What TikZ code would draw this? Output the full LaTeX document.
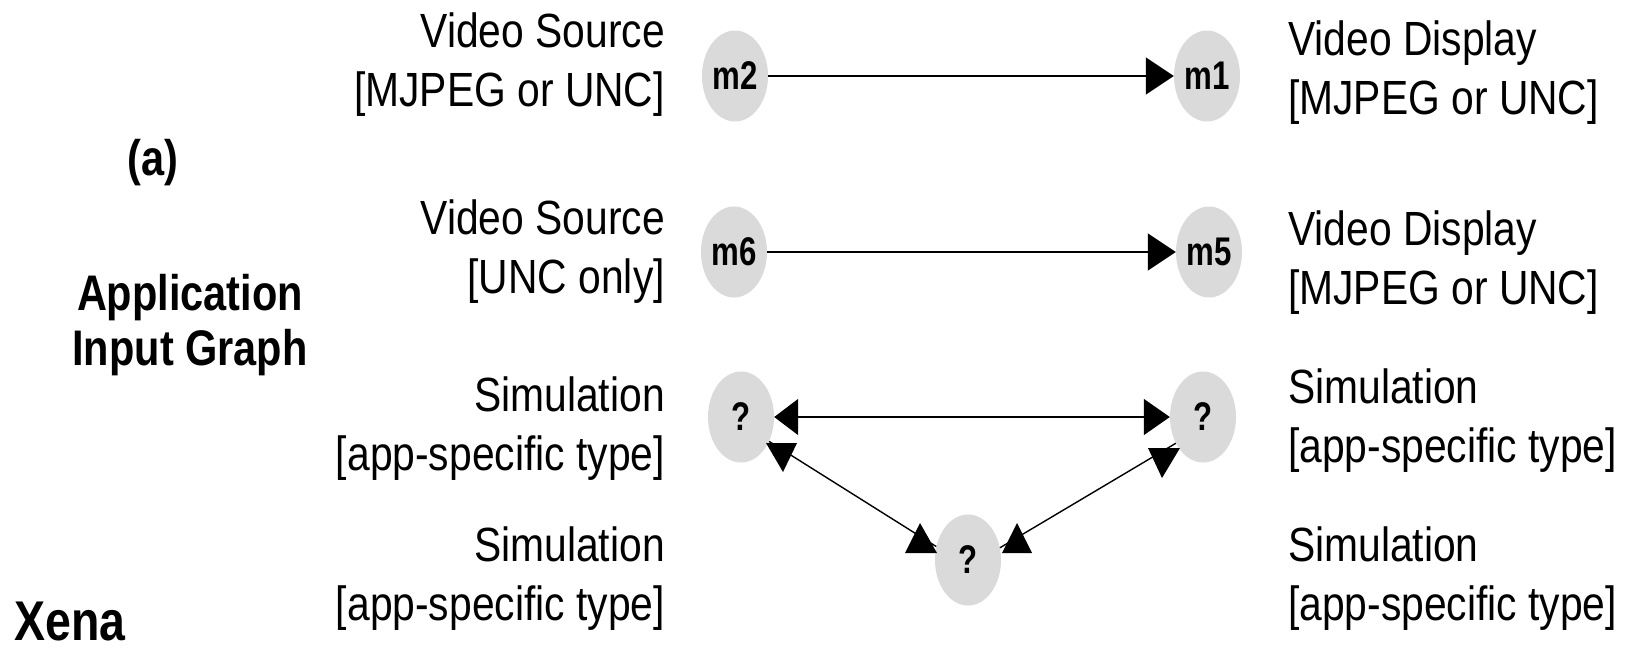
\documentclass[tikz,border=0pt]{standalone}
\usepackage{fontspec}
\setmainfont{Liberation Sans}[FakeStretch=0.85]
\newfontfamily\headfont{Liberation Sans}[FakeStretch=0.83]
\newfontfamily\nodefont{Liberation Sans}[FakeStretch=0.78]
\usetikzlibrary{shapes.geometric,arrows.meta}
\definecolor{nodegray}{RGB}{218,218,218}
\tikzset{
  mnode/.style={ellipse, fill=nodegray, minimum width=66pt, minimum height=91pt, inner sep=0pt,
    font=\nodefont\bfseries\fontsize{40}{46}\selectfont},
  lbl/.style={inner sep=0pt, font=\fontsize{48}{59}\selectfont},
  llbl/.style={lbl, align=right, anchor=north east},
  rlbl/.style={lbl, align=left, anchor=north west},
  headlbl/.style={inner sep=0pt, font=\headfont\bfseries\fontsize{50}{55}\selectfont, align=center},
  conn/.style={line width=1.6pt, -{Triangle[length=28pt,width=37pt]}},
  conntwo/.style={line width=1.6pt, {Triangle[length=24pt,width=36pt]}-{Triangle[length=26pt,width=36pt]}},
  diag/.style={line width=1.4pt},
  tri/.style={fill=black}
}
\begin{document}
\begin{tikzpicture}[x=1pt,y=-1pt]
\useasboundingbox (0,0) rectangle (1629,649);
\fill[white] (0,0) rectangle (1629,649);

% side headings
\node[headlbl] (a) at (153,163) {(a)};
\node[headlbl] (aig) at (190,325) {Application\\Input Graph};
\node[inner sep=0pt, anchor=base west, font=\headfont\bfseries\fontsize{56}{60}\selectfont] (xena) at (14,640) {Xena};

% left labels
\node[llbl] (l1) at (665,13) {Video Source\\{}[MJPEG or UNC]};
\node[llbl] (l2) at (665,200) {Video Source\\{}[UNC only]};
\node[llbl] (l3) at (665,377) {Simulation\\{}[app-specific type]};
\node[llbl] (l4) at (665,527) {Simulation\\{}[app-specific type]};

% right labels
\node[rlbl] (r1) at (1288,21) {Video Display\\{}[MJPEG or UNC]};
\node[rlbl] (r2) at (1288,211) {Video Display\\{}[MJPEG or UNC]};
\node[rlbl] (r3) at (1288,369) {Simulation\\{}[app-specific type]};
\node[rlbl] (r4) at (1288,527) {Simulation\\{}[app-specific type]};

% nodes
\node[mnode] (m2) at (735,76) {m2};
\node[mnode] (m1) at (1207,76) {m1};
\node[mnode] (m6) at (734,252) {m6};
\node[mnode] (m5) at (1209,252) {m5};
\node[mnode] (qL) at (741,417) {?};
\node[mnode] (qR) at (1203,417) {?};
\node[mnode] (qB) at (968,560) {?};

% connectors
\draw[conn] (m2) -- (m1);
\draw[conn] (m6) -- (m5);
\draw[conntwo] (qL) -- (qR);
\draw[diag] (qL.-41) -- (qB.157);
\draw[diag] (qR.224) -- (qB.21);

% arrowheads on the diagonal connectors
\fill[tri] (766,443) -- (797,443) -- (783,472) -- cycle;
\fill[tri] (905,553) -- (937,553) -- (920,523) -- cycle;
\fill[tri] (1148,448) -- (1180,448) -- (1162,478) -- cycle;
\fill[tri] (1002,553) -- (1032,553) -- (1017,523) -- cycle;
\end{tikzpicture}
\end{document}
